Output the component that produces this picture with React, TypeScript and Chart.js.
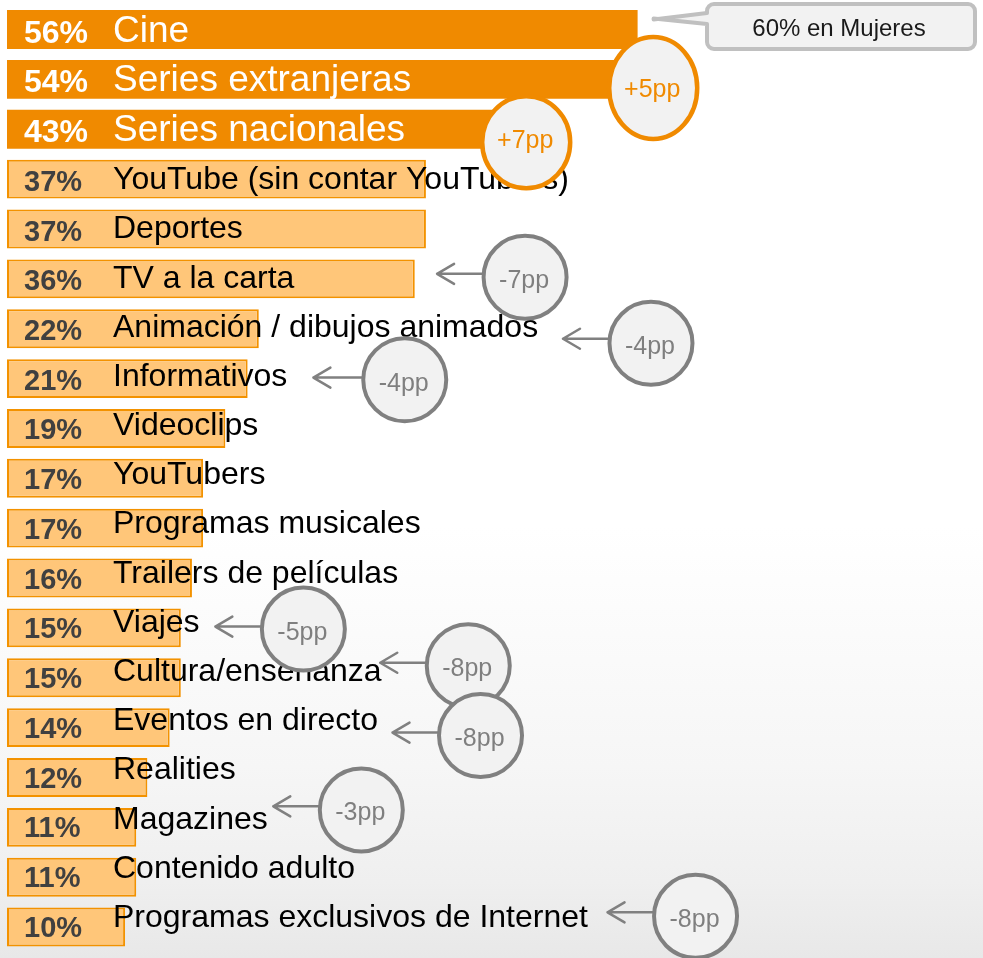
import { useEffect, useRef } from 'react';
import { Chart, registerables } from 'chart.js';

Chart.register(...registerables);

// ---------- data ----------
const CATEGORIES = [
  'Cine',
  'Series extranjeras',
  'Series nacionales',
  'YouTube (sin contar YouTubers)',
  'Deportes',
  'TV a la carta',
  'Animación / dibujos animados',
  'Informativos',
  'Videoclips',
  'YouTubers',
  'Programas musicales',
  'Trailers de películas',
  'Viajes',
  'Cultura/enseñanza',
  'Eventos en directo',
  'Realities',
  'Magazines',
  'Contenido adulto',
  'Programas exclusivos de Internet',
];
const VALUES = [56, 54, 43, 37, 37, 36, 22, 21, 19, 17, 17, 16, 15, 15, 14, 12, 11, 11, 10];
const HIGHLIGHT_COUNT = 3;
const CALLOUT_TEXT = '60% en Mujeres';

// change annotations: row index, label, x (value units) of circle, arrow tip (value units)
const CHANGE_ROWS = [1, 2, 5, 6, 7, 12, 13, 14, 16, 18];
const CHANGE_LABELS = ['+5pp', '+7pp', '-7pp', '-4pp', '-4pp', '-5pp', '-8pp', '-8pp', '-3pp', '-8pp'];
const CHANGE_X = [57.4, 46.0, 45.9, 57.2, 35.1, 26.0, 40.8, 41.9, 31.2, 61.2];
const CHANGE_TIP = [null, null, 38.0, 49.3, 26.9, 18.1, 32.9, 34.0, 23.3, 53.3];

// ---------- layout (pixels) ----------
const X_MIN = -0.6;
const X_MAX = 87;
const CIRCLE_DY = [8.6, 13, -1.5, 14.6, 1.2, 1.2, -12, 8, -17.4, -10.7];
const ARROW_DY = [0, 0, -5, 10, -1, -1.3, -15, 5, -21, -14.7];
const TEXT_DY = [9, 6, 11, 11, 11, 10.5, 10.5, 10.5, 10, 10.5];
const FONT = '"Liberation Sans", Arial, sans-serif';

const DARK = '#f08a00';
const LIGHT = '#ffc679';
const LIGHT_BORDER = '#f39200';
const GRAY = '#808080';
const CIRCLE_FILL = '#f2f2f2';

const bgPlugin = {
  id: 'bg',
  beforeDraw(chart: any) {
    const { ctx, width, height } = chart;
    const g = ctx.createLinearGradient(0, 0, 0, height);
    g.addColorStop(0, '#ffffff');
    g.addColorStop(0.55, '#ffffff');
    g.addColorStop(0.8, '#f6f6f6');
    g.addColorStop(0.92, '#efefef');
    g.addColorStop(1, '#e8e8e8');
    ctx.save();
    ctx.fillStyle = g;
    ctx.fillRect(0, 0, width, height);
    ctx.restore();
  },
};

const labelPlugin = {
  id: 'labels',
  afterDatasetsDraw(chart: any) {
    const { ctx, scales } = chart;
    const x = scales.x;
    const y = scales.y;
    ctx.save();
    ctx.textAlign = 'left';
    ctx.textBaseline = 'alphabetic';
    CATEGORIES.forEach((cat, i) => {
      const c = y.getPixelForValue(i);
      const pct = VALUES[i] + '%';
      if (i < HIGHLIGHT_COUNT) {
        ctx.fillStyle = '#ffffff';
        ctx.font = `bold 32px ${FONT}`;
        ctx.fillText(pct, 24, c + 13);
        ctx.font = `37px ${FONT}`;
        ctx.fillText(cat, 113, c + 12);
      } else {
        ctx.fillStyle = '#404040';
        ctx.font = `bold 29px ${FONT}`;
        ctx.fillText(pct, 24, c + 11.7 - (i - 3) * 0.13);
        ctx.fillStyle = '#000000';
        ctx.font = `32px ${FONT}`;
        ctx.fillText(cat, 113, c + 10 - (i - 3) * 0.67);
      }
    });

    // callout on first bar
    const tipX = x.getPixelForValue(VALUES[0]) + 16;
    const c0 = y.getPixelForValue(0);
    const bx0 = 707, bx1 = 975, by0 = 4, by1 = 49, r = 7;
    ctx.beginPath();
    ctx.moveTo(bx0 + r, by0);
    ctx.lineTo(bx1 - r, by0);
    ctx.arcTo(bx1, by0, bx1, by0 + r, r);
    ctx.lineTo(bx1, by1 - r);
    ctx.arcTo(bx1, by1, bx1 - r, by1, r);
    ctx.lineTo(bx0 + r, by1);
    ctx.arcTo(bx0, by1, bx0, by1 - r, r);
    ctx.lineTo(bx0, 24);
    ctx.lineTo(tipX, c0 - 11);
    ctx.lineTo(tipX, c0 - 10);
    ctx.lineTo(bx0, 13);
    ctx.lineTo(bx0, by0 + r);
    ctx.arcTo(bx0, by0, bx0 + r, by0, r);
    ctx.closePath();
    ctx.fillStyle = CIRCLE_FILL;
    ctx.fill();
    ctx.lineWidth = 4;
    ctx.lineJoin = 'round';
    ctx.strokeStyle = '#c0c0c0';
    ctx.stroke();
    ctx.fillStyle = '#1a1a1a';
    ctx.font = `24px ${FONT}`;
    ctx.textAlign = 'center';
    ctx.fillText(CALLOUT_TEXT, (bx0 + bx1) / 2 - 2, 36);

    // change annotations
    CHANGE_ROWS.forEach((row, k) => {
      const c = y.getPixelForValue(row);
      const cx = x.getPixelForValue(CHANGE_X[k]);
      const cy = c + CIRCLE_DY[k];
      const up = CHANGE_LABELS[k].startsWith('+');
      let rx = 41.5, ry = 41.5;
      if (up) {
        rx = 44;
        ry = k === 0 ? 51 : 46;
      }
      const tip = CHANGE_TIP[k];
      if (tip !== null) {
        const tx = x.getPixelForValue(tip);
        const ay = c + ARROW_DY[k];
        ctx.strokeStyle = GRAY;
        ctx.lineWidth = 2.5;
        ctx.lineCap = 'round';
        ctx.beginPath();
        ctx.moveTo(cx - rx, ay);
        ctx.lineTo(tx, ay);
        ctx.moveTo(tx + 17, ay - 10);
        ctx.lineTo(tx, ay);
        ctx.lineTo(tx + 17, ay + 10);
        ctx.stroke();
      }
      ctx.beginPath();
      ctx.ellipse(cx, cy, rx, ry, 0, 0, Math.PI * 2);
      ctx.fillStyle = CIRCLE_FILL;
      ctx.fill();
      ctx.lineWidth = up ? 4.5 : 4;
      ctx.strokeStyle = up ? DARK : GRAY;
      ctx.stroke();
      ctx.fillStyle = up ? DARK : '#7f7f7f';
      ctx.font = `25px ${FONT}`;
      ctx.textAlign = 'center';
      ctx.fillText(CHANGE_LABELS[k], cx - 1, cy + TEXT_DY[k]);
    });
    ctx.restore();
  },
};

export default function App() {
  const ref = useRef<HTMLCanvasElement>(null);
  useEffect(() => {
    if (!ref.current) return;
    const chart = new Chart(ref.current, {
      type: 'bar',
      data: {
        labels: CATEGORIES,
        datasets: [
          {
            data: VALUES,
            base: X_MIN,
            backgroundColor: VALUES.map((_, i) => (i < HIGHLIGHT_COUNT ? DARK : LIGHT)),
            borderColor: VALUES.map((_, i) => (i < HIGHLIGHT_COUNT ? DARK : LIGHT_BORDER)),
            borderWidth: VALUES.map((_, i) => (i < HIGHLIGHT_COUNT ? 0 : 2)),
            borderSkipped: false,
            categoryPercentage: 1,
            barPercentage: 0.78,
          } as any,
        ],
      },
      options: {
        indexAxis: 'y',
        animation: false,
        responsive: false,
        devicePixelRatio: 1,
        layout: { padding: { left: 7, right: 0, top: 4.6, bottom: 6 } },
        scales: {
          x: { display: false, min: X_MIN, max: X_MAX },
          y: { display: false },
        },
        plugins: { legend: { display: false }, tooltip: { enabled: false } },
      },
      plugins: [bgPlugin, labelPlugin],
    });
    return () => chart.destroy();
  }, []);
  return (
    <div style={{ position: 'absolute', left: 0, top: 0, width: 983, height: 958 }}>
      <canvas ref={ref} width={983} height={958} style={{ display: 'block' }} />
    </div>
  );
}
